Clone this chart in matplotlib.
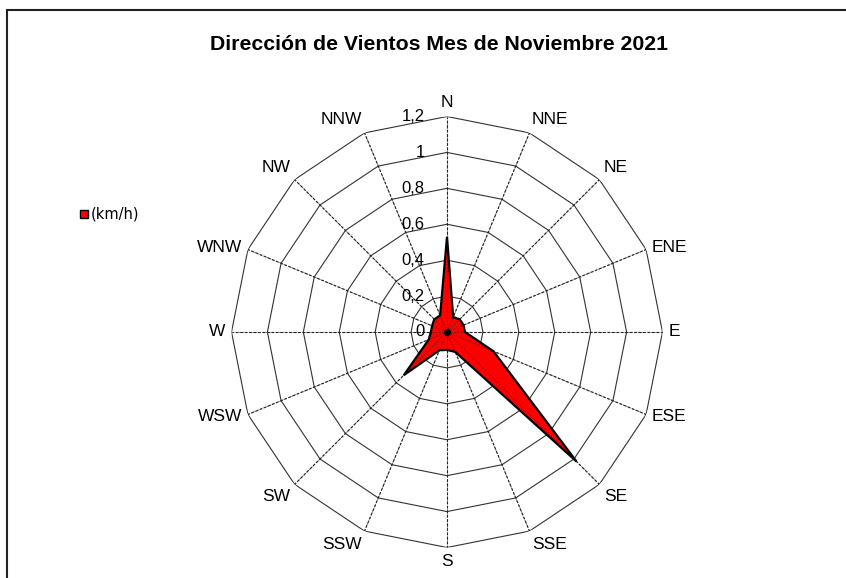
import numpy as np
import matplotlib
matplotlib.use("Agg")
import matplotlib.pyplot as plt
from matplotlib.patches import Rectangle

directions = ["N", "NNE", "NE", "ENE", "E", "ESE", "SE", "SSE",
              "S", "SSW", "SW", "WSW", "W", "WNW", "NW", "NNW"]
speeds = [0.53, 0.09, 0.10, 0.10, 0.10, 0.28, 1.02, 0.12,
          0.10, 0.11, 0.34, 0.11, 0.09, 0.09, 0.10, 0.10]
rings = [0.2, 0.4, 0.6, 0.8, 1.0, 1.2]
ring_labels = ["0", "0,2", "0,4", "0,6", "0,8", "1", "1,2"]
title = "Dirección de Vientos Mes de Noviembre 2021"
series_name = "(km/h)"

W, H = 846, 578
fig = plt.figure(figsize=(W / 100, H / 100), dpi=100)
fig.patch.set_facecolor("white")

cx, cy, R = 447, 332, 215.5
ax = fig.add_axes([(cx - R) / W, (H - cy - R) / H, 2 * R / W, 2 * R / H],
                  projection="polar")
ax.set_theta_zero_location("N")
ax.set_theta_direction(-1)
ax.set_ylim(0, 1.2)
ax.grid(False)
ax.set_xticks([])
ax.set_yticks([])
ax.spines["polar"].set_visible(False)
ax.patch.set_alpha(0)

n = len(directions)
theta = np.arange(n) * 2 * np.pi / n
theta_c = np.append(theta, theta[0])

# polygon rings
for r in rings:
    ax.plot(theta_c, [r] * (n + 1), color="#333333", lw=0.8, zorder=1)
# spokes
for t in theta:
    ax.plot([t, t], [0, rings[-1]], color="#222222", lw=0.8,
            ls=(0, (2.5, 1.5)), zorder=1)

# data polygon
vals = np.append(speeds, speeds[0])
ax.fill(theta_c, vals, facecolor="#FF0000", edgecolor="black", lw=1.6,
        zorder=3, joinstyle="miter")
# spokes visible over fill
for t in theta:
    ax.plot([t, t], [0, rings[-1]], color="#222222", lw=0.6,
            ls=(0, (2.5, 1.5)), zorder=4, alpha=0.6)
ax.plot([0], [0], marker="o", color="black", ms=4, zorder=5)

# direction labels
for t, lab in zip(theta, directions):
    s, c = np.sin(t), np.cos(t)
    ha = "left" if s > 0.3 else ("right" if s < -0.3 else "center")
    va = "bottom" if c > 0.5 else ("top" if c < -0.5 else "center")
    ax.text(t, 1.235, lab, ha=ha, va=va, fontsize=12.5,
            family="Liberation Sans", color="black")

# radial labels
for r, lab in zip([0] + rings, ring_labels):
    ax.annotate(lab, xy=(0, r), xytext=(-16, 0), textcoords="offset points",
                ha="right", va="center", fontsize=12,
                family="Liberation Sans", color="black")

fig.text(439 / W, 1 - 45 / H, title, ha="center", va="center",
         fontsize=15.3, fontweight="bold", family="Liberation Sans")

# legend
fig.patches.append(Rectangle((80 / W, 1 - 218 / H), 8 / W, 8 / H,
                             transform=fig.transFigure, facecolor="#FF0000",
                             edgecolor="black", lw=1))
fig.text(91 / W, 1 - 214 / H, series_name, ha="left", va="center",
         fontsize=10.5, family="DejaVu Sans")

# chart frame
fig.patches.append(Rectangle((7 / W, -0.05), 1.1, 1 - 10 / H + 0.05,
                             transform=fig.transFigure, facecolor="none",
                             edgecolor="#222222", lw=1.5))

fig.savefig("out.png", dpi=100)
